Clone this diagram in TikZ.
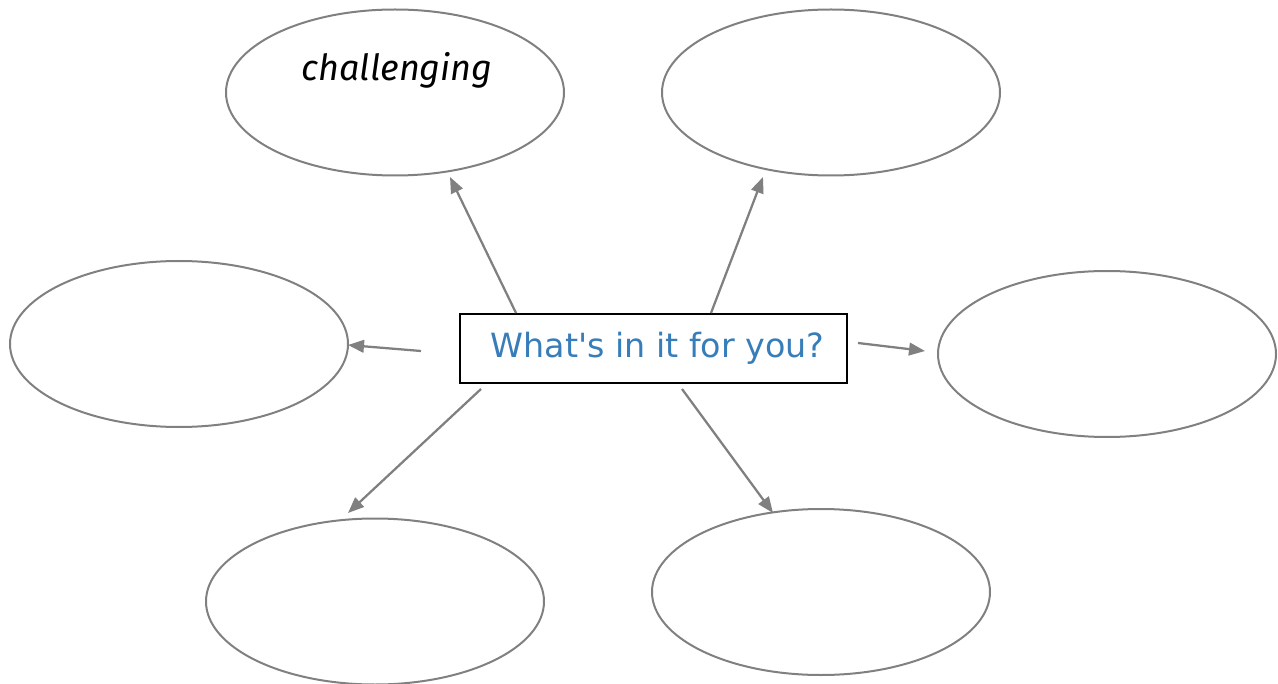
\documentclass[tikz,border=0pt]{standalone}
\usepackage{fontspec}
\usetikzlibrary{arrows.meta,shapes.geometric}
\newfontfamily\boxfont{DejaVu Sans}
\newfontfamily\handfont{Fira Sans}
\definecolor{ringgray}{RGB}{128,128,128}
\definecolor{askblue}{RGB}{55,125,185}

\tikzset{every picture/.style={line width=0.75pt}}
\tikzset{
  bubble/.style={ellipse, draw=ringgray, line width=1.5pt, minimum width=253.5pt, minimum height=124.5pt, inner sep=0pt},
  askbox/.style={draw=black, line width=1.6pt, minimum width=290.25pt, minimum height=51.75pt, inner sep=0pt, font=\boxfont\fontsize{25}{30}\selectfont, text=askblue},
  pointer/.style={draw=ringgray, line width=1.7pt, -{Triangle[length=12pt,width=9.5pt]}}
}

\begin{document}
\begin{tikzpicture}[x=0.75pt,y=0.75pt,yscale=-1,xscale=1]
	\useasboundingbox (0,0) rectangle (1278,684);

	%Shape: Ellipse [id:topleft]
	\node [bubble] (tl) at (395,92.5) {};
	%Shape: Ellipse [id:topright]
	\node [bubble] (tr) at (831,92.5) {};
	%Shape: Ellipse [id:left]
	\node [bubble] (lf) at (179,344) {};
	%Shape: Ellipse [id:right]
	\node [bubble] (rt) at (1107,354) {};
	%Shape: Ellipse [id:bottomleft]
	\node [bubble] (bl) at (375,601.5) {};
	%Shape: Ellipse [id:bottomright]
	\node [bubble] (br) at (821,592) {};

	%Shape: Rectangle [id:center]
	\node [askbox] (ask) at (653.5,348.5) {\hspace{6pt}What's in it for you?};

	% Text Node
	\node (word) at (397,70) {\handfont\itshape\fontsize{27}{32}\selectfont challenging};

	% free ends of the arrows
	\coordinate (s1) at (516,313);
	\coordinate (e1) at (450,177);
	\coordinate (s2) at (711,313);
	\coordinate (e2) at (763,177);
	\coordinate (s3) at (421,351);
	\coordinate (e3) at (348,345);
	\coordinate (s4) at (858,343);
	\coordinate (e4) at (925,351);
	\coordinate (s5) at (481,389);
	\coordinate (e5) at (348,513);
	\coordinate (s6) at (682,389);
	\coordinate (e6) at (773,513);

	%Straight Lines
	\draw [pointer] (s1) -- (e1);
	\draw [pointer] (s2) -- (e2);
	\draw [pointer] (s3) -- (e3);
	\draw [pointer] (s4) -- (e4);
	\draw [pointer] (s5) -- (e5);
	\draw [pointer] (s6) -- (e6);

\end{tikzpicture}
\end{document}
